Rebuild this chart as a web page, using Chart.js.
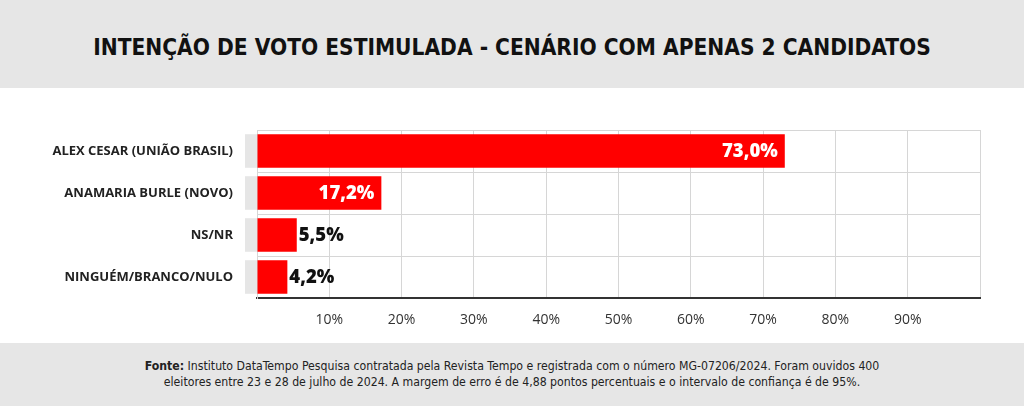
<!DOCTYPE html>
<html>
<head>
<meta charset="utf-8">
<script src="https://cdn.jsdelivr.net/npm/chart.js@4.4.1/dist/chart.umd.min.js"></script>
<style>
  html, body { margin: 0; padding: 0; background: #fff; }
  body { width: 1024px; height: 406px; position: relative; overflow: hidden; }
  .header {
    position: absolute; left: 0; top: 0; width: 1024px; height: 88px;
    background: #e6e6e6;
  }
  .header h1 {
    position: absolute; left: 0; top: 33px; width: 1024px; margin: 0;
    text-align: center; font-family: "DejaVu Sans Condensed", "DejaVu Sans", sans-serif;
    font-weight: bold; font-size: 22.5px; color: #111; line-height: 28px;
  }
  .chart-wrap { position: absolute; left: 0; top: 88px; width: 1024px; height: 255px; }
  .footer {
    position: absolute; left: 0; top: 343px; width: 1024px; height: 63px;
    background: #e6e6e6;
  }
  .footer p {
    position: absolute; left: 0; top: 15px; width: 1024px; margin: 0;
    text-align: center; font-family: "DejaVu Sans Condensed", "DejaVu Sans", sans-serif;
    font-size: 12.2px; line-height: 16px; color: #222;
  }
</style>
</head>
<body>
<div class="header"><h1>INTENÇÃO DE VOTO ESTIMULADA - CENÁRIO COM APENAS 2 CANDIDATOS</h1></div>
<div class="chart-wrap"><canvas id="chart" width="1024" height="255"></canvas></div>
<div class="footer"><p><b>Fonte:</b> Instituto DataTempo Pesquisa contratada pela Revista Tempo e registrada com o número MG-07206/2024. Foram ouvidos 400<br>eleitores entre 23 e 28 de julho de 2024. A margem de erro é de 4,88 pontos percentuais e o intervalo de confiança é de 95%.</p></div>
<script>
const candidates = ['ALEX CESAR (UNIÃO BRASIL)', 'ANAMARIA BURLE (NOVO)', 'NS/NR', 'NINGUÉM/BRANCO/NULO'];
const votes = [73.0, 17.2, 5.5, 4.2];
const xTicks = [0, 10, 20, 30, 40, 50, 60, 70, 80, 90, 100];

const gridColor = '#d6d6d6';

// light gray tab to the left of each bar
const barTabs = {
  id: 'barTabs',
  beforeDatasetsDraw(chart) {
    const ctx = chart.ctx;
    const meta = chart.getDatasetMeta(0);
    ctx.save();
    ctx.fillStyle = '#e6e6e6';
    meta.data.forEach(bar => {
      ctx.fillRect(chart.chartArea.left - 12, bar.y - bar.height / 2, 12, bar.height);
    });
    ctx.restore();
  }
};

// value labels: white inside long bars, black outside short ones
const valueLabels = {
  id: 'valueLabels',
  afterDatasetsDraw(chart) {
    const ctx = chart.ctx;
    const meta = chart.getDatasetMeta(0);
    ctx.save();
    ctx.font = '800 18.5px "Open Sans", sans-serif';
    ctx.textBaseline = 'middle';
    meta.data.forEach((bar, i) => {
      const v = votes[i];
      const txt = v.toFixed(1).replace('.', ',') + '%';
      if (v > 10) {
        ctx.fillStyle = '#fff';
        ctx.textAlign = 'right';
        ctx.fillText(txt, bar.x - 7, bar.y + 1);
      } else {
        ctx.fillStyle = '#111';
        ctx.textAlign = 'left';
        ctx.fillText(txt, bar.x + 2, bar.y + 1);
      }
    });
    ctx.restore();
  }
};

new Chart(document.getElementById('chart'), {
  type: 'bar',
  data: {
    labels: candidates,
    datasets: [{
      data: votes,
      backgroundColor: '#ff0000',
      borderWidth: 0,
      categoryPercentage: 0.8,
      barPercentage: 1
    }]
  },
  options: {
    indexAxis: 'y',
    responsive: false,
    animation: false,
    layout: { padding: { top: 42, right: 44, left: 0, bottom: 0 } },
    plugins: { legend: { display: false }, tooltip: { enabled: false } },
    scales: {
      x: {
        min: 0,
        max: 100,
        afterBuildTicks: scale => { scale.ticks = xTicks.map(v => ({ value: v })); },
        afterFit: scale => { scale.height = 45; },
        grid: { color: gridColor, lineWidth: 1, drawTicks: false },
        border: { color: '#333', width: 2 },
        ticks: {
          padding: 14,
          color: '#333',
          font: { family: '"Open Sans", sans-serif', size: 14 },
          callback: v => (v === 0 || v === 100) ? '' : v + '%'
        }
      },
      y: {
        afterFit: scale => { scale.width = 257; },
        grid: { color: gridColor, lineWidth: 1, drawTicks: false, offset: true },
        border: { color: gridColor, width: 1 },
        ticks: {
          padding: 24,
          color: '#222',
          font: { family: '"Open Sans", sans-serif', size: 13, weight: 'bold' }
        }
      }
    }
  },
  plugins: [barTabs, valueLabels]
});
</script>
</body>
</html>
